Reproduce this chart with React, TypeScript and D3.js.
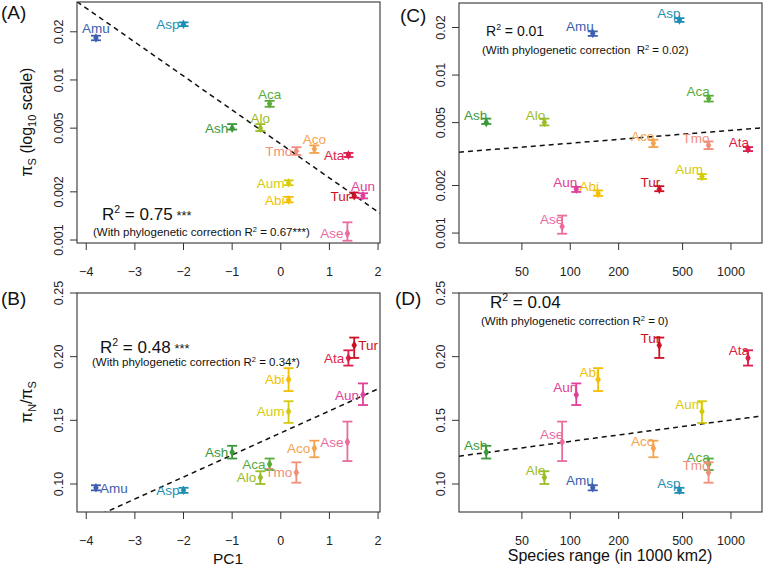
import React, { useRef, useEffect } from 'react';
import * as d3 from 'd3';

// species, in the order of the original table
const species = ['Amu', 'Asp', 'Aca', 'Alo', 'Ash', 'Aco', 'Tmo', 'Ata', 'Aum', 'Abi', 'Tur', 'Aun', 'Ase'];
const speciesColors = ['#3d5eae', '#1e8fb3', '#5aab3a', '#9bbd28', '#3b983b', '#f5a34f', '#f08e7b', '#dc1d4b', '#d5cb0e', '#f4bf00', '#cc1124', '#e0409a', '#ea6c9f'];

// PC1 and species range (1000 km2)
const pc1 = [-3.8, -2.0, -0.23, -0.42, -1.0, 0.69, 0.32, 1.39, 0.16, 0.16, 1.51, 1.69, 1.37];
const speciesRange = [138, 478, 727, 69, 30, 329, 725, 1277, 660, 149, 358, 109, 89];

// piS with confidence interval
const piS = [0.0183, 0.0223, 0.0071, 0.005, 0.0050, 0.0037, 0.0036, 0.0034, 0.00228, 0.00178, 0.00189, 0.00189, 0.0011];
const piSLow = [0.0177, 0.0217, 0.0068, 0.0048, 0.0049, 0.0035, 0.0034, 0.0033, 0.0022, 0.00172, 0.00184, 0.00182, 0.00099];
const piSHigh = [0.0189, 0.0229, 0.0074, 0.0053, 0.0053, 0.0039, 0.0038, 0.0035, 0.00236, 0.00186, 0.00198, 0.00196, 0.00129];

// piN/piS with confidence interval
const ratio = [0.097, 0.095, 0.1155, 0.105, 0.125, 0.128, 0.109, 0.199, 0.157, 0.182, 0.209, 0.17, 0.133];
const ratioLow = [0.095, 0.093, 0.111, 0.1, 0.12, 0.121, 0.101, 0.193, 0.148, 0.173, 0.199, 0.162, 0.118];
const ratioHigh = [0.099, 0.097, 0.12, 0.11, 0.13, 0.134, 0.117, 0.205, 0.165, 0.191, 0.215, 0.179, 0.149];

// regression lines: [intercept, slope]
const fitA = [-2.4, -0.2122]; // log10(piS) ~ PC1
const fitB = [0.1401, 0.0173]; // piN/piS ~ PC1
const fitC = [-2.595, 0.0817]; // log10(piS) ~ log10(range)
const fitD = [0.0999, 0.01677]; // piN/piS ~ log10(range)

const pcTicks = [-4, -3, -2, -1, 0, 1, 2];
const rangeTicks = [50, 100, 200, 500, 1000];
const piSTicks = [0.001, 0.002, 0.005, 0.01, 0.02];
const ratioTicks = [0.1, 0.15, 0.2, 0.25];

const FONT = '"Liberation Sans", Arial, Helvetica, sans-serif';

type Side = 'left' | 'above' | 'right' | 'corner';

const App = () => {
  const svgRef = useRef<SVGSVGElement>(null);

  useEffect(() => {
    const svg = d3.select(svgRef.current);
    svg.selectAll('*').remove();
    svg.style('font-family', FONT);

    const drawPanel = (opts: any) => {
      const { id, x0, x1, y0, y1, x, y, xv, yv, lo, hi, fitLine, xTicks, xFmt, yTicks, yFmt, sides, defaultSide } = opts;
      const g = svg.append('g');

      const clipId = 'clip' + id;
      g.append('clipPath').attr('id', clipId)
        .append('rect').attr('x', x0).attr('y', y0).attr('width', x1 - x0).attr('height', y1 - y0);

      // regression line
      const xd = x.domain();
      const pts = d3.range(0, 101).map(i => {
        const t = xd[0] + (xd[1] - xd[0]) * i / 100;
        return [t, fitLine(t)];
      });
      const line = d3.line<number[]>().x(d => x(d[0])).y(d => y(d[1]));
      g.append('path')
        .attr('clip-path', `url(#${clipId})`)
        .attr('d', line(pts))
        .attr('fill', 'none')
        .attr('stroke', '#111')
        .attr('stroke-width', 1.5)
        .attr('stroke-dasharray', '5,4');

      // error bars and points
      species.forEach((s, i) => {
        const c = speciesColors[i];
        const px = x(xv[i]);
        const py = y(yv[i]);
        const yl = y(lo[i]);
        const yh = y(hi[i]);
        g.append('line').attr('x1', px).attr('x2', px).attr('y1', yl).attr('y2', yh)
          .attr('stroke', c).attr('stroke-width', 1.8);
        [yl, yh].forEach(cy => {
          g.append('line').attr('x1', px - 5).attr('x2', px + 5).attr('y1', cy).attr('y2', cy)
            .attr('stroke', c).attr('stroke-width', 1.8);
        });
        g.append('path')
          .attr('transform', `translate(${px},${py})`)
          .attr('d', d3.symbol().type(d3.symbolDiamond).size(26)())
          .attr('fill', c);

        const side: Side = sides[s] || defaultSide;
        const t = g.append('text')
          .attr('fill', c)
          .style('font-size', '13.5px')
          .text(s);
        if (side === 'left') {
          t.attr('x', px - 4).attr('y', py + 4.8).attr('text-anchor', 'end');
        } else if (side === 'right') {
          t.attr('x', px + 4).attr('y', py + 4.8).attr('text-anchor', 'start');
        } else if (side === 'above') {
          t.attr('x', px).attr('y', py - 5).attr('text-anchor', 'middle');
        } else {
          t.attr('x', px + 1).attr('y', py - 2.5).attr('text-anchor', 'end');
        }
      });

      // box
      g.append('rect').attr('x', x0).attr('y', y0).attr('width', x1 - x0).attr('height', y1 - y0)
        .attr('fill', 'none').attr('stroke', '#333').attr('stroke-width', 1.1);

      // x axis
      xTicks.forEach((v: number) => {
        const tx = x(v);
        g.append('line').attr('x1', tx).attr('x2', tx).attr('y1', y1).attr('y2', y1 + 7)
          .attr('stroke', '#333').attr('stroke-width', 1);
        g.append('text').attr('x', tx).attr('y', y1 + 33).attr('text-anchor', 'middle')
          .style('font-size', '12.5px').attr('fill', '#222').text(xFmt(v));
      });
      // y axis
      yTicks.forEach((v: number) => {
        const ty = y(v);
        g.append('line').attr('x1', x0 - 7).attr('x2', x0).attr('y1', ty).attr('y2', ty)
          .attr('stroke', '#333').attr('stroke-width', 1);
        g.append('text')
          .attr('transform', `translate(${x0 - 14},${ty}) rotate(-90)`)
          .attr('text-anchor', 'middle')
          .style('font-size', '12.5px').attr('fill', '#222').text(yFmt(v));
      });
      return g;
    };

    const r2Text = (x: number, yb: number, size: number, value: string, stars: string) => {
      const t = svg.append('text').attr('x', x).attr('y', yb).style('font-size', size + 'px').attr('fill', '#111');
      t.append('tspan').text('R');
      t.append('tspan').attr('dy', -size * 0.42).style('font-size', (size * 0.62) + 'px').text('2');
      t.append('tspan').attr('dy', size * 0.42).text(' = ' + value);
      if (stars) t.append('tspan').attr('dx', 4).style('font-size', (size * 0.75) + 'px').text(stars);
    };
    const phyloText = (x: number, yb: number, value: string, pre: string) => {
      const size = 11.5;
      const t = svg.append('text').attr('x', x).attr('y', yb).style('font-size', size + 'px').attr('fill', '#111')
        .attr('xml:space', 'preserve');
      t.append('tspan').text('(With phylogenetic correction' + pre + 'R');
      t.append('tspan').attr('dy', -4).style('font-size', '7.5px').text('2');
      t.append('tspan').attr('dy', 4).text(' = ' + value + ')');
    };

    const pcFmt = (v: number) => (v < 0 ? '\u2212' + Math.abs(v) : String(v));
    const rangeFmt = (v: number) => String(v);
    const piSFmt = (v: number) => String(v);
    const ratioFmt = (v: number) => v.toFixed(2);

    // (A)
    const xA = d3.scaleLinear().domain([-4.19, 2.04]).range([77, 380]);
    const yA = d3.scaleLog().domain([0.000958, 0.0307]).range([243, 2]);
    drawPanel({
      id: 'A', x0: 77, x1: 380, y0: 2, y1: 243, x: xA, y: yA,
      xv: pc1, yv: piS, lo: piSLow, hi: piSHigh,
      fitLine: (t: number) => Math.pow(10, fitA[0] + fitA[1] * t),
      xTicks: pcTicks, xFmt: pcFmt, yTicks: piSTicks, yFmt: piSFmt,
      sides: { Amu: 'above', Aca: 'above', Alo: 'above', Aco: 'above', Aun: 'above' }, defaultSide: 'left',
    });
    // (B)
    const yB = d3.scaleLinear().domain([0.078, 0.25]).range([512, 293]);
    drawPanel({
      id: 'B', x0: 77, x1: 380, y0: 293, y1: 512, x: xA, y: yB,
      xv: pc1, yv: ratio, lo: ratioLow, hi: ratioHigh,
      fitLine: (t: number) => fitB[0] + fitB[1] * t,
      xTicks: pcTicks, xFmt: pcFmt, yTicks: ratioTicks, yFmt: ratioFmt,
      sides: { Amu: 'right', Tur: 'right' }, defaultSide: 'left',
    });
    // (C)
    const xC = d3.scaleLog().domain([20.3, 1560]).range([459, 762]);
    const yC = d3.scaleLog().domain([0.000865, 0.02858]).range([243, 3]);
    drawPanel({
      id: 'C', x0: 459, x1: 762, y0: 3, y1: 243, x: xC, y: yC,
      xv: speciesRange, yv: piS, lo: piSLow, hi: piSHigh,
      fitLine: (t: number) => Math.pow(10, fitC[0] + fitC[1] * Math.log10(t)),
      xTicks: rangeTicks, xFmt: rangeFmt, yTicks: piSTicks, yFmt: piSFmt,
      sides: {}, defaultSide: 'corner',
    });
    // (D)
    drawPanel({
      id: 'D', x0: 459, x1: 762, y0: 293, y1: 512, x: xC, y: yB,
      xv: speciesRange, yv: ratio, lo: ratioLow, hi: ratioHigh,
      fitLine: (t: number) => fitD[0] + fitD[1] * Math.log10(t),
      xTicks: rangeTicks, xFmt: rangeFmt, yTicks: ratioTicks, yFmt: ratioFmt,
      sides: {}, defaultSide: 'corner',
    });

    // R2 annotations
    r2Text(102, 220, 17, '0.75', '***');
    phyloText(93, 236, '0.67***', ' ');
    r2Text(100, 353, 17, '0.48', '***');
    phyloText(92, 366, '0.34*', ' ');
    r2Text(486, 36, 14, '0.01', '');
    phyloText(482, 54, '0.02', '  ');
    r2Text(490, 308, 17, '0.04', '');
    phyloText(481, 325, '0', ' ');

    // panel letters
    [['(A)', 1, 19], ['(B)', 1, 305], ['(C)', 400, 22], ['(D)', 395, 305]].forEach(([s, x, y]) => {
      svg.append('text').attr('x', x as number).attr('y', y as number)
        .style('font-size', '19px').attr('fill', '#111').text(s as string);
    });

    // axis titles
    const yTitleA = svg.append('text')
      .attr('transform', 'translate(32,122) rotate(-90)')
      .attr('text-anchor', 'middle').style('font-size', '16px').attr('fill', '#111');
    yTitleA.append('tspan').text('\u03c0');
    yTitleA.append('tspan').attr('dy', 4).style('font-size', '11px').text('S');
    yTitleA.append('tspan').attr('dy', -4).text(' (log');
    yTitleA.append('tspan').attr('dy', 4).style('font-size', '11px').text('10');
    yTitleA.append('tspan').attr('dy', -4).text(' scale)');

    const yTitleB = svg.append('text')
      .attr('transform', 'translate(32,402) rotate(-90)')
      .attr('text-anchor', 'middle').style('font-size', '16px').attr('fill', '#111');
    yTitleB.append('tspan').text('\u03c0');
    yTitleB.append('tspan').attr('dy', 4).style('font-size', '11px').text('N');
    yTitleB.append('tspan').attr('dy', -4).text('/\u03c0');
    yTitleB.append('tspan').attr('dy', 4).style('font-size', '11px').text('S');

    svg.append('text').attr('x', 228).attr('y', 564).attr('text-anchor', 'middle')
      .style('font-size', '15.5px').attr('fill', '#111').text('PC1');
    svg.append('text').attr('x', 610).attr('y', 561).attr('text-anchor', 'middle')
      .style('font-size', '16px').attr('fill', '#111').text('Species range (in 1000 km2)');
  }, []);

  return (
    <svg
      ref={svgRef}
      width={765}
      height={568}
      style={{ position: 'absolute', left: 0, top: 0, background: '#fff' }}
    />
  );
};

export default App;
